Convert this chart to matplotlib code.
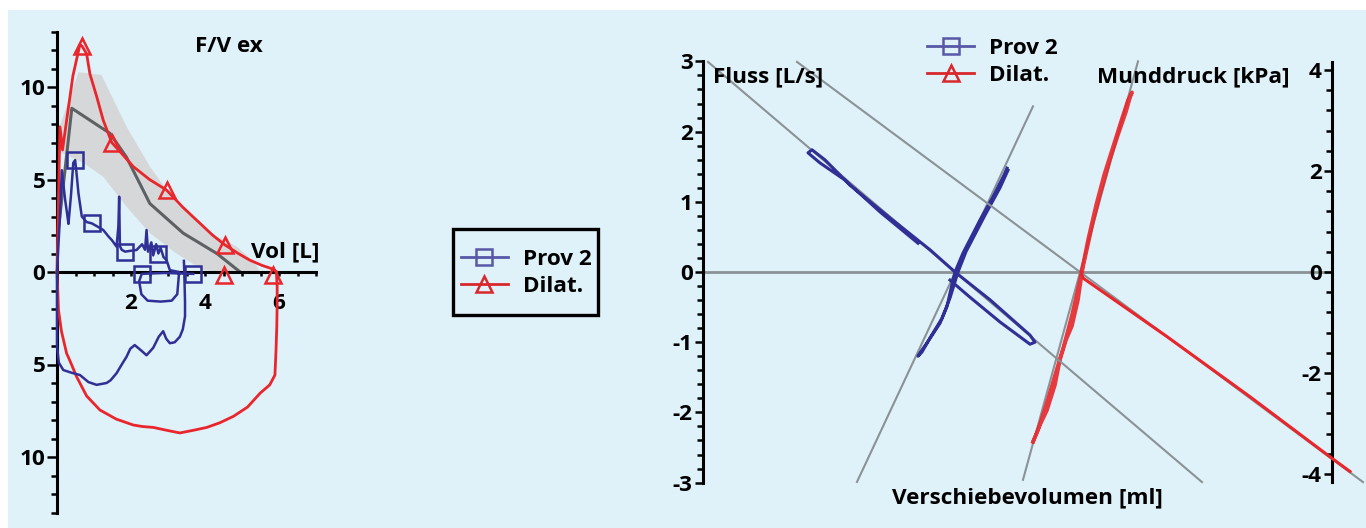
import matplotlib
matplotlib.use('Agg')
import numpy as np
import matplotlib.pyplot as plt
from matplotlib.lines import Line2D
from matplotlib.patches import Rectangle
from matplotlib.ticker import MultipleLocator, FixedLocator, FuncFormatter

# ---------------- data: left flow/volume loop (F/V ex) ----------------
dilat_ex_vol = [0.00, 0.04, 0.08, 0.15, 0.26, 0.43, 0.62, 0.68, 0.80, 0.89, 1.07, 1.25, 1.48, 1.75,
                2.06, 2.50, 2.96, 3.40, 3.86, 4.20, 4.54, 4.90, 5.20, 5.55, 5.85, 5.93]
dilat_ex_flow = [0.0, 4.0, 7.85, 6.6, 8.2, 10.6, 12.3, 12.2, 11.8, 10.7, 9.5, 8.2, 7.0, 6.4,
                 5.7, 5.0, 4.43, 3.5, 2.64, 2.0, 1.46, 1.0, 0.65, 0.35, 0.15, 0.0]
dilat_ex_marks = [7, 12, 16, 20]
dilat_in_vol = [5.93, 5.95, 5.95, 5.94, 5.92, 5.89, 5.75, 5.49, 5.15, 4.77, 4.40, 4.05, 3.70, 3.32,
                2.95, 2.60, 2.30, 2.06, 1.60, 1.16, 0.80, 0.53, 0.35, 0.26, 0.12, 0.04, 0.00]
dilat_in_flow = [0.0, -0.8, -1.8, -2.95, -4.2, -5.57, -6.1, -6.55, -7.3, -7.8, -8.15, -8.4, -8.55, -8.7,
                 -8.55, -8.4, -8.35, -8.27, -7.95, -7.46, -6.7, -5.66, -4.8, -4.4, -3.2, -2.05, 0.0]
dilat_zero_vol = [4.50, 5.85]
dilat_zero_flow = [-0.15, -0.15]

prov_vol = [3.43, 3.44, 3.45, 3.46, 3.46, 3.40, 3.32, 3.18, 3.05, 2.95, 2.87, 2.75, 2.60, 2.42, 2.28,
            2.10, 1.98, 1.88, 1.75, 1.61, 1.45, 1.34, 1.07, 0.85, 0.62, 0.40, 0.17, 0.05, 0.00, 0.00,
            0.00, 0.00,
            0.08, 0.13, 0.18, 0.22, 0.27, 0.31, 0.38, 0.44, 0.49, 0.53, 0.58, 0.67, 0.80, 0.94, 1.10,
            1.25, 1.40, 1.48, 1.61, 1.66, 1.68, 1.70, 1.75, 1.84, 2.00, 2.15, 2.30, 2.38, 2.42, 2.46,
            2.55, 2.60, 2.68, 2.74, 2.80, 2.88, 2.96, 3.05,
            3.30, 3.28, 3.25, 3.10, 2.80, 2.45, 2.28, 2.22, 2.29, 2.90, 3.68]
prov_flow = [0.6, 0.0, -0.8, -1.6, -2.4, -3.1, -3.5, -3.8, -3.85, -3.6, -3.2, -3.5, -4.1, -4.5, -4.25,
             -3.95, -4.15, -4.58, -5.0, -5.47, -5.85, -6.0, -6.1, -5.95, -5.57, -5.45, -5.3, -4.9, -4.0, -2.6,
             -1.0, 0.0,
             3.0, 5.5, 4.6, 3.9, 3.2, 2.6, 4.2, 5.9, 6.05, 5.3, 4.25, 3.0, 2.7, 2.63, 2.45,
             2.27, 1.9, 1.73, 1.37, 2.5, 4.07, 1.4, 1.2, 1.1, 1.15, 1.19, 1.5, 1.2, 2.27, 1.1,
             1.6, 0.9, 1.5, 1.0, 1.3, 0.8, 0.65, 0.1,
             0.0, -0.5, -1.2, -1.55, -1.6, -1.55, -1.2, -0.5, -0.1, -0.05, -0.1]
prov_marks = [40, 45, 55, 65, 78, 80]

band_upper_vol = [0.03, 0.58, 1.20, 1.88, 2.51, 3.23, 4.14, 4.86, 5.30, 5.50]
band_upper_flow = [7.6, 10.8, 10.65, 7.85, 5.7, 3.7, 2.1, 1.37, 0.6, 0.0]
band_lower_vol = [0.03, 0.17, 0.71, 1.25, 1.88, 2.51, 3.23, 3.95, 4.60, 5.50]
band_lower_flow = [6.5, 6.4, 5.9, 5.15, 3.53, 2.1, 1.0, 0.1, 0.0, 0.0]
pred_vol = [0.05, 0.40, 1.16, 1.43, 1.88, 2.51, 3.41, 4.32, 4.95]
pred_flow = [2.5, 8.85, 7.85, 7.5, 6.2, 3.7, 2.1, 1.0, 0.0]

# ---------------- data: right resistance / shutter loops ----------------
ref_shallow_vol = [[0.5, 49.9], [9.4, 66.0]]
ref_shallow_press = [[4.16, -4.16], [4.16, -4.16]]
ref_steep_vol = [[15.4, 33.0], [32.0, 43.5]]
ref_steep_flow = [[-2.99, 2.36], [-2.96, 3.0]]

prov_res_vol = [30.4, 30.1, 29.0, 27.7, 26.0, 25.2, 25.0, 24.4, 23.7, 22.4, 21.7, 21.5, 21.9, 22.7,
                23.9, 24.7, 25.5, 26.3, 28.2, 29.7, 30.5]
prov_res_flow = [1.48, 1.38, 1.07, 0.74, 0.27, 0.0, -0.11, -0.49, -0.73, -1.01, -1.15, -1.20, -1.14,
                 -0.94, -0.66, -0.37, 0.0, 0.29, 0.81, 1.20, 1.45]
prov_shut_vol = [21.5, 17.7, 14.2, 11.7, 10.5, 10.9, 12.2, 14.7, 18.7, 22.7, 25.2, 28.7, 32.7, 33.2,
                 32.7, 29.7, 26.7, 24.7]
prov_shut_press = [0.57, 1.19, 1.82, 2.16, 2.36, 2.42, 2.22, 1.72, 1.07, 0.44, 0.0, -0.55, -1.25, -1.39,
                   -1.43, -0.99, -0.50, -0.16]

dilat_res_vol = [33.0, 33.7, 34.4, 35.2, 35.7, 36.3, 36.9, 37.5, 37.8, 38.0, 38.5, 39.0, 39.7, 40.7,
                 41.5, 42.3, 42.7, 42.9, 42.5, 41.9, 40.9, 40.1, 39.3, 38.5, 37.7, 36.9, 36.1, 35.2,
                 34.3, 33.5, 33.0]
dilat_res_flow = [-2.42, -2.18, -1.97, -1.61, -1.25, -0.97, -0.77, -0.40, -0.11, 0.07, 0.39, 0.71, 1.10,
                  1.60, 1.95, 2.28, 2.48, 2.56, 2.45, 2.19, 1.74, 1.38, 0.95, 0.46, -0.11, -0.61, -1.04,
                  -1.47, -1.90, -2.25, -2.42]
dilat_shut_vol = [37.8, 38.0, 46.4, 54.7, 62.9, 64.7]
dilat_shut_press = [0.0, -0.12, -1.28, -2.47, -3.69, -3.95]

series_labels = ['Prov 2', 'Dilat.']
left_xticks = [2, 4, 6]
left_yticks = [-10, -5, 0, 5, 10]
flow_ticks = [-3, -2, -1, 0, 1, 2, 3]
press_ticks = [-4, -2, 0, 2, 4]

# ---------------- style ----------------
plt.rcParams['font.family'] = ['Open Sans', 'DejaVu Sans']
plt.rcParams['font.weight'] = 'bold'
plt.rcParams['axes.unicode_minus'] = False

W, H = 1366, 528
BG = '#dff1f9'
BLUE = '#2f2f95'
BLUE_LEG = '#5858a6'
RED = '#e8262b'
RED_LEG = '#d8282c'
GRAY = '#8a9296'
FS = 16.2

fig = plt.figure(figsize=(W / 100, H / 100), dpi=100)
fig.patch.set_facecolor('white')
fig.patches.append(Rectangle((8 / W, 0), 1, (H - 10) / H, transform=fig.transFigure,
                             facecolor=BG, edgecolor='none', zorder=-10))


def px_rect(x0, y0, x1, y1):
    return [x0 / W, 1 - y1 / H, (x1 - x0) / W, (y1 - y0) / H]


def ftext(x, y, s, **kw):
    fig.text(x / W, 1 - y / H, s, fontsize=FS, fontweight='bold', **kw)


# ---------------- left axes ----------------
sx, sy = 37.0, 18.5
ax1 = fig.add_axes(px_rect(57, 272 - 13.3 * sy, 57 + 7.2 * sx, 272 + 13.3 * sy))
ax1.set_xlim(0, 7.2)
ax1.set_ylim(-13.3, 13.3)
ax1.set_facecolor('none')
for s in ['top', 'right']:
    ax1.spines[s].set_visible(False)
ax1.spines['bottom'].set_position(('data', 0))
ax1.spines['bottom'].set_bounds(0, 7)
ax1.spines['left'].set_bounds(-13, 13)
for s in ['left', 'bottom']:
    ax1.spines[s].set_linewidth(2.2)
ax1.yaxis.set_major_locator(FixedLocator(left_yticks))
ax1.yaxis.set_minor_locator(FixedLocator(np.arange(-13, 14, 1)))
ax1.yaxis.set_major_formatter(FuncFormatter(lambda v, p: f"{abs(int(round(v)))}"))
ax1.xaxis.set_major_locator(FixedLocator(left_xticks))
ax1.xaxis.set_minor_locator(FixedLocator(np.arange(0, 7.01, 0.5)))
ax1.tick_params(axis='y', which='major', length=7, width=1.8, pad=1.5, labelsize=FS)
ax1.tick_params(axis='y', which='minor', length=4.5, width=1.8)
ax1.tick_params(axis='x', which='both', length=3, width=1.8, pad=12, labelsize=FS)

band_x = band_upper_vol + band_lower_vol[::-1]
band_y = band_upper_flow + band_lower_flow[::-1]
ax1.fill(band_x, band_y, color='#d5d7d8', lw=0, zorder=1)
ax1.plot(pred_vol, pred_flow, color='#5d6163', lw=2.2, zorder=2)

ax1.plot(dilat_ex_vol, dilat_ex_flow, color=RED, lw=2, marker='^', markevery=dilat_ex_marks,
         ms=12, mfc='none', mec=RED, mew=1.8, clip_on=False, zorder=4)
ax1.plot(dilat_in_vol, dilat_in_flow, color=RED, lw=2, clip_on=False, zorder=4)
ax1.plot(dilat_zero_vol, dilat_zero_flow, ls='none', marker='^', ms=12, mfc='none', mec=RED,
         mew=1.8, clip_on=False, zorder=4)
ax1.plot(prov_vol, prov_flow, color=BLUE, lw=1.8, marker='s', markevery=prov_marks,
         ms=12, mfc='none', mec=BLUE, mew=1.8, clip_on=False, zorder=5)

ftext(229, 46, 'F/V ex', ha='center', va='center')
ftext(285, 252, 'Vol [L]', ha='center', va='center')

# ---------------- legend handles ----------------
h_prov = Line2D([], [], color=BLUE_LEG, lw=2, marker='s', ms=12, mfc='none', mec=BLUE_LEG, mew=1.8)
h_dilat = Line2D([], [], color=RED_LEG, lw=2, marker='^', ms=12, mfc='none', mec=RED_LEG, mew=1.8)

fig.patches.append(Rectangle((453 / W, 1 - 315 / H), 145 / W, 86 / H, transform=fig.transFigure,
                             facecolor='none', edgecolor='black', lw=2.4, zorder=5))
leg1 = fig.legend([h_prov, h_dilat], series_labels, loc='center',
                  bbox_to_anchor=(526 / W, 1 - 273 / H), frameon=False, fontsize=FS,
                  handlelength=2.1, handletextpad=0.65, labelspacing=0.25, borderpad=0)
for t in leg1.get_texts():
    t.set_fontweight('bold')

leg2 = fig.legend([h_prov, h_dilat], series_labels, loc='upper left',
                  bbox_to_anchor=(927 / W, 1 - 38 / H), frameon=False, fontsize=FS,
                  handlelength=2.1, handletextpad=0.65, labelspacing=0.25, borderpad=0,
                  borderaxespad=0)
for t in leg2.get_texts():
    t.set_fontweight('bold')

# ---------------- right axes ----------------
fy, py = 70.2, 50.5
ylim_f = 3.314
ax2 = fig.add_axes(px_rect(703, 272 - ylim_f * fy, 1366, 272 + ylim_f * fy))
ax2.set_xlim(0, 66.3)
ax2.set_ylim(-ylim_f, ylim_f)
ax2.set_facecolor('none')
for s in ['top', 'right', 'bottom']:
    ax2.spines[s].set_visible(False)
ax2.spines['left'].set_bounds(-3, 3)
ax2.spines['left'].set_linewidth(2.2)
ax2.set_xticks([])
ax2.yaxis.set_major_locator(FixedLocator(flow_ticks))
ax2.yaxis.set_minor_locator(FixedLocator(np.linspace(-3, 3, 31)))
ax2.yaxis.set_major_formatter(FuncFormatter(lambda v, p: f"{int(round(v))}"))
ax2.tick_params(axis='y', which='major', length=6, width=1.8, pad=1.5, labelsize=FS)
ax2.tick_params(axis='y', which='minor', length=4, width=1.8)

ax3 = ax2.twinx()
ylim_p = ylim_f * fy / py
ax3.set_ylim(-ylim_p, ylim_p)
for s in ['top', 'right', 'bottom']:
    ax3.spines[s].set_visible(False)
ax3.spines['left'].set_visible(True)
ax3.spines['left'].set_position(('axes', 62.9 / 66.3))
ax3.spines['left'].set_bounds(-4.16, 4.16)
ax3.spines['left'].set_linewidth(2.2)
ax3.yaxis.tick_left()
ax3.yaxis.set_label_position('left')
ax3.yaxis.set_major_locator(FixedLocator(press_ticks))
ax3.yaxis.set_minor_locator(FixedLocator(np.linspace(-4, 4, 21)))
ax3.yaxis.set_major_formatter(FuncFormatter(lambda v, p: f"{int(round(v))}"))
ax3.tick_params(axis='y', which='major', length=6, width=1.8, pad=1.5, labelsize=FS)
ax3.tick_params(axis='y', which='minor', length=4, width=1.8)
ax3.set_xticks([])

ax2.axhline(0, xmin=0, xmax=62.9 / 66.3, color=GRAY, lw=2, zorder=1)
for xs, ys in zip(ref_shallow_vol, ref_shallow_press):
    ax3.plot(xs, ys, color=GRAY, lw=1.5, zorder=1)
for xs, ys in zip(ref_steep_vol, ref_steep_flow):
    ax2.plot(xs, ys, color=GRAY, lw=1.5, zorder=1)

ax2.plot(prov_res_vol, prov_res_flow, color=BLUE, lw=2.2, zorder=3)
ax3.plot(prov_shut_vol, prov_shut_press, color=BLUE, lw=2.2, zorder=3)
ax2.plot(dilat_res_vol, dilat_res_flow, color=RED, lw=2.6, alpha=0.9, zorder=3)
ax3.plot(dilat_shut_vol, dilat_shut_press, color=RED, lw=2.2, zorder=3)

ftext(713, 77, 'Fluss [L/s]', ha='left', va='center')
ftext(1097, 77, 'Munddruck [kPa]', ha='left', va='center')
ftext(1027, 498, 'Verschiebevolumen [ml]', ha='center', va='center')

fig.savefig('out.png', dpi=100)
